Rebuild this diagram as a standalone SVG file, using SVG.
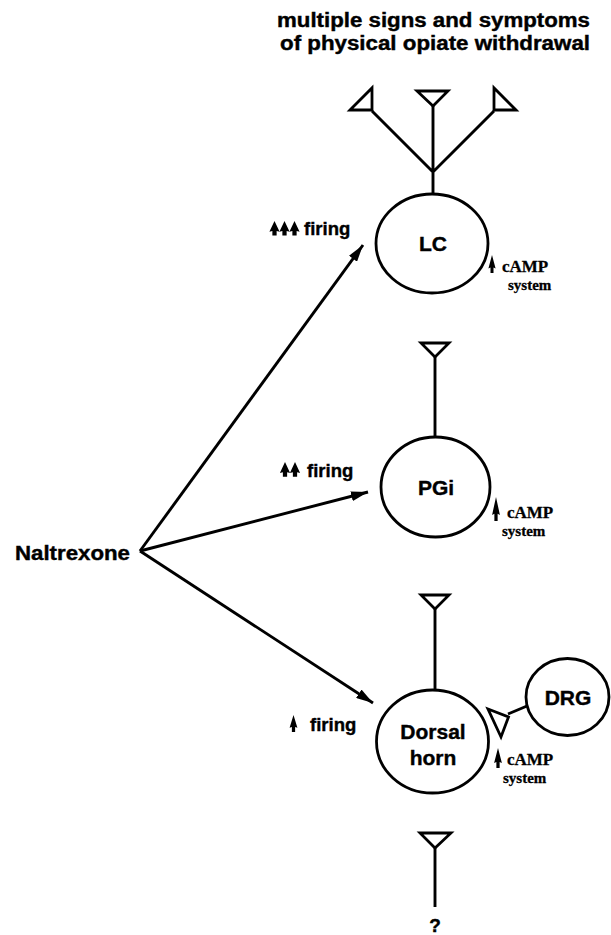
<svg xmlns="http://www.w3.org/2000/svg" width="611" height="935" viewBox="0 0 611 935">
<style>
.ln{stroke:#000;stroke-width:2.9;fill:none;stroke-linecap:butt}
.node{fill:#fff;stroke:#000;stroke-width:2.8}
.syn{fill:#fff;stroke:#000;stroke-width:2.8;stroke-linejoin:miter}
.sans{font-family:"Liberation Sans",Arial,Helvetica,sans-serif;font-weight:bold;fill:#000;stroke:#000;stroke-width:0.4}
.serif{font-family:"Liberation Serif","Times New Roman",serif;font-weight:bold;fill:#000;stroke:#000;stroke-width:0.3}
.up{fill:#000;stroke:none}
</style>
<defs>
<marker id="ah" markerUnits="userSpaceOnUse" markerWidth="18" markerHeight="10" refX="17" refY="5" orient="auto">
<path d="M0,0 L17,5 L0,10 Z" fill="#000"/>
</marker>
<path id="upArrow" d="M0,0 L6,15 L2.5,14 L2.5,20 L-2.5,20 L-2.5,14 L-6,15 Z"/>
</defs>
<rect width="611" height="935" fill="#fff"/>

<g id="title">
<text class="sans" x="277" y="27" font-size="20" textLength="313" lengthAdjust="spacingAndGlyphs">multiple signs and symptoms</text>
<text class="sans" x="280" y="50" font-size="20" textLength="310" lengthAdjust="spacingAndGlyphs">of physical opiate withdrawal</text>
</g>

<g id="lc-output">
<path class="ln" d="M372,111 L433,172 L494,111 M433,106 L433,194"/>
<path class="syn" d="M350,110 L372,88 L372,110 Z"/>
<path class="syn" d="M417,91 L448,91 L433,106 Z"/>
<path class="syn" d="M516,110 L494,88 L494,110 Z"/>
</g>

<g id="LC">
<ellipse class="node" cx="432" cy="243.5" rx="56" ry="49.5"/>
<text class="sans" x="433" y="251" font-size="21" text-anchor="middle">LC</text>
</g>
<g id="LC-firing">
<use href="#upArrow" class="up" transform="translate(274.5,221) scale(0.85,0.72)"/>
<use href="#upArrow" class="up" transform="translate(284.5,221) scale(0.85,0.72)"/>
<use href="#upArrow" class="up" transform="translate(294.5,221) scale(0.85,0.72)"/>
<text class="sans" x="304" y="235" font-size="18.5">firing</text>
</g>
<g id="LC-camp">
<use href="#upArrow" class="up" transform="translate(492,255) scale(0.6,0.9)"/>
<text class="serif" x="502" y="272" font-size="17">cAMP</text>
<text class="serif" x="508" y="290" font-size="15">system</text>
</g>

<g id="pgi-output">
<path class="ln" d="M435,356 L435,437"/>
<path class="syn" d="M421,343 L449,343 L435,357 Z"/>
</g>
<g id="PGi">
<ellipse class="node" cx="435.5" cy="487" rx="54.5" ry="50"/>
<text class="sans" x="436" y="495" font-size="21" text-anchor="middle">PGi</text>
</g>
<g id="PGi-firing">
<use href="#upArrow" class="up" transform="translate(285,462) scale(0.85,0.74)"/>
<use href="#upArrow" class="up" transform="translate(295,462) scale(0.85,0.74)"/>
<text class="sans" x="307" y="476.5" font-size="18.5">firing</text>
</g>
<g id="PGi-camp">
<use href="#upArrow" class="up" transform="translate(496,497) scale(0.65,1.2)"/>
<text class="serif" x="507" y="518" font-size="17">cAMP</text>
<text class="serif" x="502" y="536" font-size="15">system</text>
</g>

<g id="dh-output">
<path class="ln" d="M435,608 L435,690"/>
<path class="syn" d="M421,595 L449,595 L435,609 Z"/>
</g>
<g id="Dorsal-horn">
<ellipse class="node" cx="432.5" cy="741.5" rx="56" ry="51.5"/>
<text class="sans" x="433" y="739" font-size="21" text-anchor="middle">Dorsal</text>
<text class="sans" x="433" y="765" font-size="21" text-anchor="middle">horn</text>
</g>
<g id="DH-firing">
<use href="#upArrow" class="up" transform="translate(293.5,715) scale(0.65,0.85)"/>
<text class="sans" x="310" y="731" font-size="18.5">firing</text>
</g>
<g id="DH-camp">
<use href="#upArrow" class="up" transform="translate(498,748) scale(0.65,1)"/>
<text class="serif" x="507" y="765" font-size="17">cAMP</text>
<text class="serif" x="503" y="783" font-size="15">system</text>
</g>

<g id="DRG">
<ellipse class="node" cx="567.5" cy="697" rx="41.5" ry="38.5"/>
<text class="sans" x="568" y="705" font-size="21" text-anchor="middle">DRG</text>
</g>
<g id="drg-output">
<path class="ln" d="M508,714 L527,706"/>
<path class="syn" d="M488,709 L508.5,717 L501,737 Z"/>
</g>

<g id="dh-down">
<path class="ln" d="M435,847 L435,907"/>
<path class="syn" d="M420,833 L451,833 L435,848 Z"/>
<text class="sans" x="435" y="932" font-size="19" text-anchor="middle">?</text>
</g>

<g id="Naltrexone">
<text class="sans" x="15" y="560" font-size="20" textLength="115" lengthAdjust="spacingAndGlyphs">Naltrexone</text>
</g>

<g id="connectors">
<path class="ln" d="M140,551 L363,245" marker-end="url(#ah)"/>
<path class="ln" d="M140,551 L368,492" marker-end="url(#ah)"/>
<path class="ln" d="M140,551 L373,703" marker-end="url(#ah)"/>
</g>
</svg>
